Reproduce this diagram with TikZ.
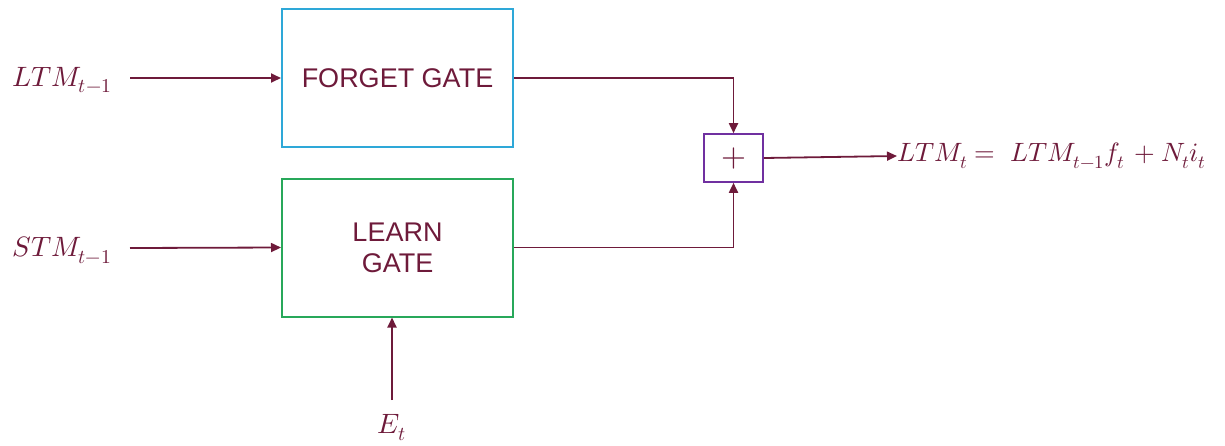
\documentclass[tikz,border=0pt]{standalone}
\usepackage{fontspec}
\usepackage{unicode-math}
\setmainfont{Liberation Sans}
\setmathfont{Latin Modern Math}
\usetikzlibrary{arrows.meta}
\definecolor{ink}{RGB}{110,26,58}
\definecolor{fgblue}{RGB}{46,168,216}
\definecolor{lggreen}{RGB}{40,168,90}
\definecolor{addpurple}{RGB}{112,48,160}
\tikzset{
  gate/.style={draw=#1, line width=2pt, minimum width=231pt, minimum height=138pt,
    inner sep=0pt, text=ink, font=\fontsize{27}{31}\selectfont, align=center},
  sumbox/.style={draw=addpurple, line width=1.6pt, minimum width=59pt, minimum height=48pt,
    inner sep=0pt, text=ink, font=\fontsize{32}{34}\selectfont},
  lbl/.style={text=ink, inner sep=0pt, font=\fontsize{28}{32}\selectfont},
  flow/.style={draw=ink, line width=1.8pt, -{Triangle[length=10pt,width=9pt]}}
}
\begin{document}
\begin{tikzpicture}[x=1pt,y=-1pt]
\useasboundingbox (0,0) rectangle (1225,445);
% gates
\node[gate=fgblue] (forget) at (397.5,78) {FORGET GATE};
\node[gate=lggreen] (learn) at (397.5,247.5) {LEARN\\GATE};
\node[sumbox] (sum) at (733.5,158) {$+$};
% inputs
\node[lbl, anchor=west] (ltm) at (12,80) {$LTM_{t-1}$};
\node[lbl, anchor=west] (stm) at (12,250) {$STM_{t-1}$};
\node[lbl] (et) at (392,428) {$E_t$};
\node[lbl, anchor=west, font=\fontsize{26.5}{30}\selectfont] (out) at (897,156)
  {$LTM_t = \; LTM_{t-1}f_t\, + N_t i_t$};
% connectors
\coordinate (ltmS) at (130,78);
\coordinate (stmS) at (130,248);
\coordinate (etS) at (392,400);
\draw[flow] (ltmS) -- (forget.west);
\draw[flow] (stmS) -- (learn.west);
\draw[flow] (etS) -- (etS |- learn.south);
\draw[flow] (forget.east) -| (sum.north);
\draw[flow] (learn.east) -| (sum.south);
\draw[flow] (sum.east) -- (out.west);
\end{tikzpicture}
\end{document}
